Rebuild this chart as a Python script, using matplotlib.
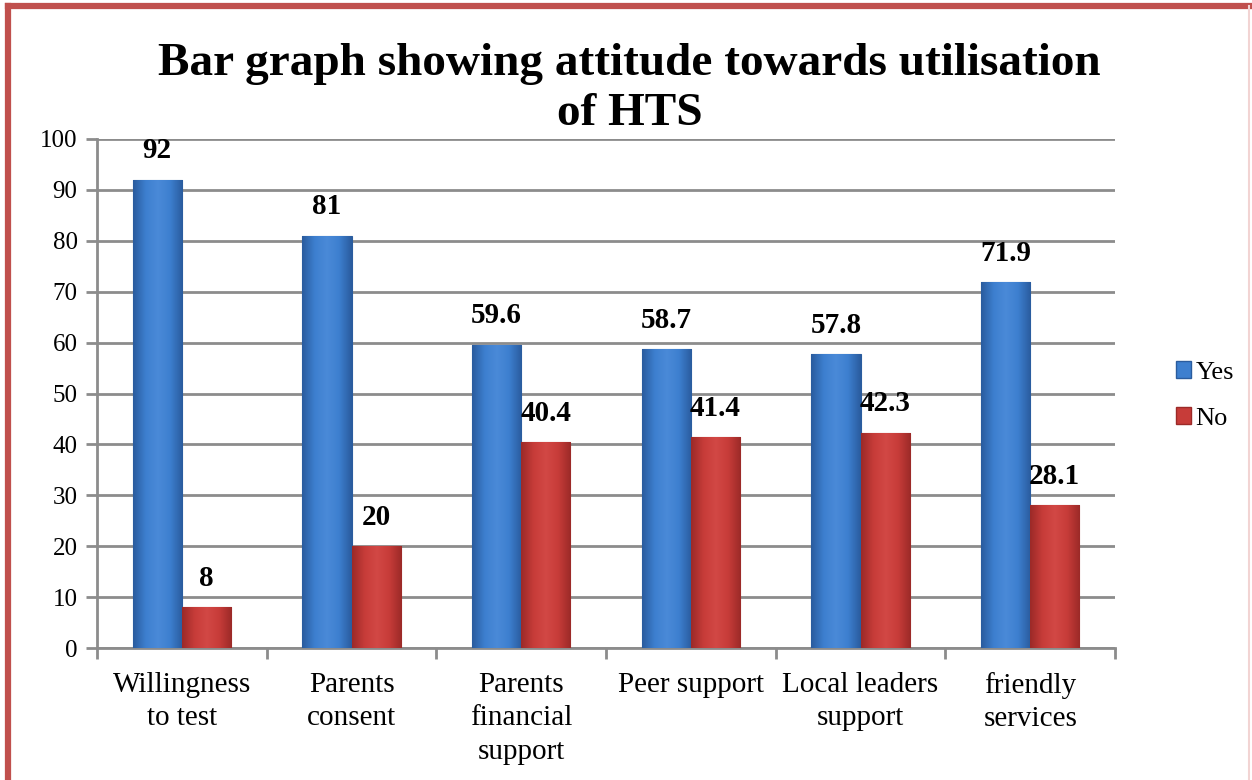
import numpy as np
import matplotlib
matplotlib.use("Agg")
import matplotlib.pyplot as plt
from matplotlib.patches import Patch
from matplotlib.lines import Line2D
from matplotlib.colors import LinearSegmentedColormap

categories = ["Willingness\nto test", "Parents\nconsent", "Parents\nfinancial\nsupport",
              "Peer support", "Local leaders\nsupport", "friendly\nservices"]
yes_values = [92, 81, 59.6, 58.7, 57.8, 71.9]
no_values = [8, 20, 40.4, 41.4, 42.3, 28.1]
yes_labels = ["92", "81", "59.6", "58.7", "57.8", "71.9"]
no_labels = ["8", "20", "40.4", "41.4", "42.3", "28.1"]
y_ticks = [0, 10, 20, 30, 40, 50, 60, 70, 80, 90, 100]

plt.rcParams['font.family'] = ['Liberation Serif', 'DejaVu Serif']

fig = plt.figure(figsize=(12.52, 7.8), dpi=100)
ax = fig.add_axes([0.0775, 0.1692, 0.8131, 0.6526])

x = np.arange(len(categories))
w = 0.29

blue_cmap = LinearSegmentedColormap.from_list("b", ["#2a5c9e", "#3d7fcf", "#4a8ad8", "#3d7fcf", "#2a5c9e"])
red_cmap = LinearSegmentedColormap.from_list("r", ["#9c2a28", "#c73c39", "#d24845", "#c73c39", "#9c2a28"])

def grad_bars(xs, vals, color, cmap, edge):
    bars = ax.bar(xs, vals, width=w, color=color, edgecolor=edge, linewidth=0.8, zorder=3)
    grad = np.linspace(0, 1, 64).reshape(1, -1)
    for b in bars:
        x0, y0 = b.get_x(), b.get_y()
        bw, bh = b.get_width(), b.get_height()
        im = ax.imshow(grad, cmap=cmap, aspect='auto', extent=[x0, x0 + bw, y0, y0 + bh],
                       zorder=3.5, interpolation='bicubic')
        im.set_clip_path(b)
    return bars

grad_bars(x - w / 2, yes_values, "#3d7fcf", blue_cmap, "#2a5c9e")
grad_bars(x + w / 2, no_values, "#c73c39", red_cmap, "#9c2a28")

for xi, v, s in zip(x, yes_values, yes_labels):
    ax.annotate(s, (xi - w / 2, v), xytext=(0, 11), textcoords='offset points',
                ha='center', va='bottom', fontsize=21, fontweight='bold', zorder=5)
for xi, v, s in zip(x, no_values, no_labels):
    ax.annotate(s, (xi + w / 2, v), xytext=(0, 11), textcoords='offset points',
                ha='center', va='bottom', fontsize=21, fontweight='bold', zorder=5)

ax.set_xlim(-0.5, len(categories) - 0.5)
ax.set_ylim(0, 100)
ax.set_yticks(y_ticks)
ax.set_yticklabels([str(t) for t in y_ticks], fontsize=18)
ax.yaxis.grid(True, color="#8c8c8c", linewidth=2, zorder=0)
ax.set_axisbelow(True)

ax.set_xticks(x)
ax.set_xticklabels(categories, fontsize=21, linespacing=1.38)
ax.tick_params(axis='x', length=0, pad=17)
ax.set_xticks(np.arange(len(categories) + 1) - 0.5, minor=True)
ax.tick_params(axis='x', which='minor', length=8, width=2, color="#8c8c8c")
ax.tick_params(axis='y', length=8, width=2, color="#8c8c8c", pad=6)

for s in ['top', 'right']:
    ax.spines[s].set_visible(False)
for s in ['left', 'bottom']:
    ax.spines[s].set_color("#8c8c8c")
    ax.spines[s].set_linewidth(2)

fig.text(0.503, 0.886, "Bar graph showing attitude towards utilisation\nof HTS",
         ha='center', va='center', fontsize=34, fontweight='bold', linespacing=1.25)

handles = [Patch(facecolor="#3d7fcf", edgecolor="#2a5c9e", label="Yes"),
           Patch(facecolor="#c73c39", edgecolor="#9c2a28", label="No")]
fig.legend(handles=handles, loc='center left', bbox_to_anchor=(0.92, 0.493),
           frameon=False, fontsize=19, handlelength=0.6, handleheight=0.6,
           handletextpad=0.15, labelspacing=0.9)

# figure border
fig.add_artist(Line2D([0.006, 0.006], [0, 0.992], transform=fig.transFigure, color="#c0504d", linewidth=4.5))
fig.add_artist(Line2D([0.006, 0.998], [0.992, 0.992], transform=fig.transFigure, color="#c0504d", linewidth=4.5))
fig.add_artist(Line2D([0.998, 0.998], [0, 0.992], transform=fig.transFigure, color="#f2d4d3", linewidth=1.5))

fig.savefig("out.png", dpi=100)
